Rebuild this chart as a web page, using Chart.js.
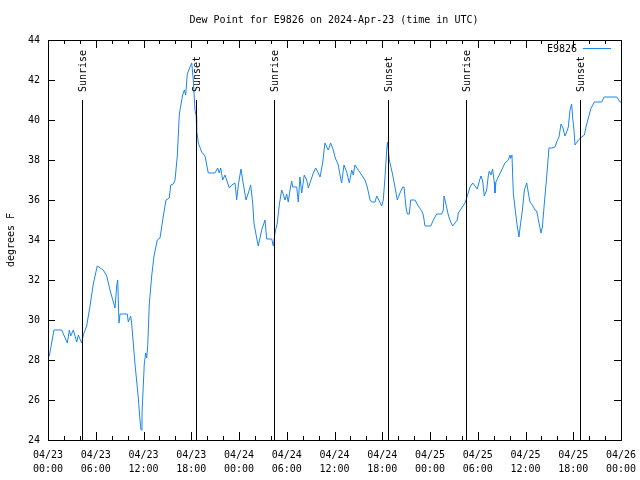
<!DOCTYPE html>
<html>
<head>
<meta charset="utf-8">
<script src="https://cdn.jsdelivr.net/npm/chart.js@4"></script>
<style>
  html, body { margin: 0; padding: 0; background: #fff; }
  #wrap { width: 640px; height: 480px; }
</style>
</head>
<body>
<div id="wrap"><canvas id="chart" width="640" height="480"></canvas></div>
<script>
// hours since 2024-04-23 00:00 UTC
const hours = [
  0.16, 0.75, 1.72, 2.43, 2.68, 2.85, 3.18, 3.61, 3.81, 4.23, 4.44, 4.86, 5.28, 5.69, 6.19, 6.95,
  7.38, 7.79, 8.42, 8.63, 8.76, 8.92, 9.05, 9.96, 10.09, 10.39, 10.52, 10.93, 11.35, 11.56, 11.69, 11.81,
  12.10, 12.28, 12.40, 12.53, 12.73, 13.03, 13.32, 13.73, 14.07, 14.49, 14.83, 15.24, 15.42, 15.75, 15.96, 16.25,
  16.50, 16.92, 17.13, 17.30, 17.50, 17.84, 18.06, 18.26, 18.47, 18.62, 18.68, 18.89, 19.31, 19.73, 20.14, 20.98,
  21.32, 21.52, 21.70, 21.95, 22.24, 22.45, 22.78, 23.08, 23.50, 23.71, 23.91, 24.25, 24.46, 24.88, 25.17, 25.47,
  25.72, 25.88, 26.22, 26.42, 26.85, 27.27, 27.48, 28.11, 28.31, 28.52, 28.81, 29.06, 29.36, 29.56, 29.78, 29.99,
  30.19, 30.41, 30.62, 30.75, 31.25, 31.45, 31.66, 31.88, 32.20, 32.51, 32.71, 32.92, 33.34, 33.64, 33.96, 34.18,
  34.51, 34.80, 35.02, 35.22, 35.52, 35.85, 36.10, 36.48, 36.69, 36.90, 37.19, 37.53, 37.86, 38.16, 38.36, 38.57,
  38.99, 39.41, 39.83, 40.12, 40.46, 40.67, 41.09, 41.30, 41.63, 41.93, 42.13, 42.34, 42.56, 42.66, 42.89, 43.26,
  43.60, 43.89, 44.23, 44.57, 44.73, 44.98, 45.15, 45.40, 45.57, 46.11, 46.53, 46.96, 47.16, 47.37, 48.09, 48.42,
  48.84, 49.47, 49.67, 49.76, 49.97, 50.30, 50.60, 50.85, 51.14, 51.43, 51.56, 51.98, 52.40, 52.69, 53.03, 53.37,
  53.66, 53.94, 54.20, 54.41, 54.62, 54.82, 55.12, 55.32, 55.45, 55.66, 55.87, 56.07, 56.16, 56.29, 56.58, 57.00,
  57.42, 57.84, 58.05, 58.13, 58.30, 58.47, 58.89, 59.18, 59.31, 59.61, 59.86, 60.15, 60.36, 60.56, 60.87, 61.19,
  61.41, 61.62, 61.95, 62.12, 62.37, 62.66, 62.95, 63.29, 63.70, 63.92, 64.21, 64.46, 64.67, 64.96, 65.17, 65.38,
  65.59, 65.80, 65.93, 66.09, 66.22, 66.64, 67.06, 67.40, 67.60, 67.90, 68.24, 68.66, 69.58, 69.87, 71.47, 71.88,
  72.0
];
const dewPoint = [
  28.2, 29.5, 29.5, 28.85, 29.5, 29.2, 29.5, 28.9, 29.25, 28.85, 29.25, 29.7, 30.7, 31.8, 32.7, 32.5,
  32.2, 31.5, 30.6, 31.7, 32.0, 29.85, 30.3, 30.3, 29.9, 30.2, 29.8, 27.8, 26.1, 25.0, 24.5, 25.3,
  27.8, 28.35, 28.1, 28.7, 30.8, 32.2, 33.2, 34.0, 34.1, 35.2, 36.0, 36.1, 36.75, 36.8, 37.0, 38.2,
  40.3, 41.25, 41.5, 41.25, 42.3, 42.65, 42.85, 42.0, 40.5, 40.2, 39.5, 38.85, 38.4, 38.2, 37.35, 37.35,
  37.6, 37.35, 37.6, 37.0, 37.25, 37.0, 36.6, 36.75, 36.85, 36.0, 36.75, 37.55, 37.0, 36.0, 36.35, 36.75,
  35.85, 34.85, 34.1, 33.7, 34.5, 35.0, 34.05, 34.05, 33.7, 34.35, 34.85, 35.75, 36.5, 36.3, 36.0, 36.3,
  35.9, 36.5, 36.95, 36.65, 36.65, 35.9, 37.15, 36.35, 37.25, 37.0, 36.6, 36.85, 37.35, 37.6, 37.35, 37.15,
  37.85, 38.85, 38.65, 38.5, 38.85, 38.5, 38.1, 37.75, 37.25, 36.85, 37.75, 37.4, 36.85, 37.5, 37.25, 37.75,
  37.5, 37.25, 37.0, 36.65, 36.0, 35.9, 35.9, 36.2, 35.95, 35.7, 36.0, 37.1, 38.5, 38.9, 38.0, 37.35,
  36.65, 36.0, 36.35, 36.65, 36.65, 35.65, 35.3, 35.3, 36.0, 36.0, 35.7, 35.45, 35.25, 34.7, 34.7, 35.0,
  35.3, 35.3, 35.5, 36.2, 35.85, 35.25, 34.9, 34.7, 34.85, 35.0, 35.35, 35.6, 35.85, 36.2, 36.65, 36.85,
  36.7, 36.55, 36.95, 37.2, 36.95, 36.2, 36.5, 37.2, 37.45, 37.25, 37.55, 36.9, 36.35, 36.9, 37.15, 37.5,
  37.85, 38.0, 38.25, 38.08, 38.25, 36.33, 34.9, 34.15, 34.6, 35.5, 36.5, 36.85, 36.35, 35.9, 35.75, 35.5,
  35.45, 35.0, 34.35, 34.65, 35.85, 37.15, 38.6, 38.6, 38.65, 38.9, 39.15, 39.8, 39.65, 39.2, 39.4, 39.65,
  40.5, 40.8, 40.1, 39.5, 38.75, 39.0, 39.15, 39.25, 39.65, 40.1, 40.6, 40.9, 40.9, 41.15, 41.15, 40.9,
  40.9
];
const sunTimes = [4.27, 18.6, 28.43, 42.76, 52.49, 66.85];
const sunLabels = ['Sunrise', 'Sunset', 'Sunrise', 'Sunset', 'Sunrise', 'Sunset'];
const yTicks = [24, 26, 28, 30, 32, 34, 36, 38, 40, 42, 44];

const FONT = '"DejaVu Sans Mono", monospace';
const lineColor = '#1c86ee';

const points = hours.map((h, i) => ({ x: h, y: dewPoint[i] }));

function pad2(n) { return (n < 10 ? '0' : '') + n; }

const gnuplotFrame = {
  id: 'gnuplotFrame',
  afterDraw(chart) {
    const ctx = chart.ctx;
    const a = chart.chartArea;
    const xs = chart.scales.x;
    const ys = chart.scales.y;
    ctx.save();
    ctx.strokeStyle = '#000';
    ctx.lineWidth = 1;
    ctx.strokeRect(Math.round(a.left) + 0.5, Math.round(a.top) + 0.5,
      Math.round(a.right - a.left), Math.round(a.bottom - a.top));

    ctx.beginPath();
    // x ticks every 2 hours, longer every 6
    for (let h = 0; h <= 72; h += 2) {
      const x = Math.round(xs.getPixelForValue(h)) + 0.5;
      const len = h % 6 === 0 ? 8 : 4;
      ctx.moveTo(x, a.bottom); ctx.lineTo(x, a.bottom - len);
      ctx.moveTo(x, a.top); ctx.lineTo(x, a.top + len);
    }
    yTicks.forEach(v => {
      const y = Math.round(ys.getPixelForValue(v)) + 0.5;
      ctx.moveTo(a.left, y); ctx.lineTo(a.left + 7, y);
      ctx.moveTo(a.right, y); ctx.lineTo(a.right - 7, y);
    });
    ctx.stroke();

    // sunrise / sunset markers
    ctx.font = '10px ' + FONT;
    ctx.fillStyle = '#000';
    sunTimes.forEach((t, i) => {
      const x = Math.round(xs.getPixelForValue(t)) + 0.5;
      ctx.beginPath();
      ctx.moveTo(x, 100); ctx.lineTo(x, a.bottom);
      ctx.stroke();
      ctx.save();
      ctx.translate(x + 1, 92);
      ctx.rotate(-Math.PI / 2);
      ctx.textAlign = 'left';
      ctx.textBaseline = 'middle';
      ctx.fillText(sunLabels[i], 0, 0);
      ctx.restore();
    });

    // title
    ctx.textAlign = 'center';
    ctx.textBaseline = 'middle';
    ctx.fillText('Dew Point for E9826 on 2024-Apr-23 (time in UTC)', 334, 20);

    // y axis title
    ctx.save();
    ctx.translate(11, 240);
    ctx.rotate(-Math.PI / 2);
    ctx.fillText('degrees F', 0, 0);
    ctx.restore();

    // legend
    ctx.textAlign = 'right';
    ctx.fillText('E9826', 577, 49);
    ctx.strokeStyle = lineColor;
    ctx.beginPath();
    ctx.moveTo(583, 48.5); ctx.lineTo(611, 48.5);
    ctx.stroke();
    ctx.restore();
  }
};

new Chart(document.getElementById('chart').getContext('2d'), {
  type: 'line',
  data: {
    datasets: [{
      label: 'E9826',
      data: points,
      borderColor: lineColor,
      borderWidth: 1,
      pointRadius: 0,
      tension: 0,
      fill: false
    }]
  },
  options: {
    responsive: false,
    animation: false,
    layout: { padding: { top: 40, right: 19, left: 0, bottom: 0 } },
    plugins: { legend: { display: false }, title: { display: false }, tooltip: { enabled: false } },
    scales: {
      x: {
        type: 'linear',
        min: 0,
        max: 72,
        afterFit(scale) {
          scale.height = 40;
          scale.paddingLeft = 0;
          scale.paddingRight = 0;
        },
        grid: { display: false, drawTicks: false },
        border: { display: false },
        ticks: {
          stepSize: 6,
          autoSkip: false,
          maxRotation: 0,
          padding: 8,
          color: '#000',
          font: { family: FONT, size: 10, lineHeight: 1.4 },
          callback(v) {
            const day = 23 + Math.floor(v / 24);
            return ['04/' + day, pad2(v % 24) + ':00'];
          }
        }
      },
      y: {
        min: 24,
        max: 44,
        afterFit(scale) {
          scale.width = 48;
          scale.paddingTop = 0;
          scale.paddingBottom = 0;
        },
        grid: { display: false, drawTicks: false },
        border: { display: false },
        ticks: {
          stepSize: 2,
          padding: 8,
          color: '#000',
          font: { family: FONT, size: 10 }
        }
      }
    }
  },
  plugins: [gnuplotFrame]
});
</script>
</body>
</html>
